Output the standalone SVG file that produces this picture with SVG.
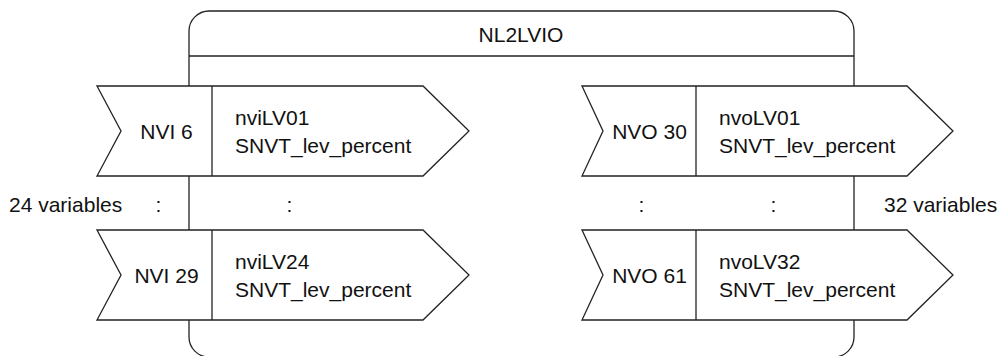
<svg xmlns="http://www.w3.org/2000/svg" width="1003" height="356" viewBox="0 0 1003 356">
<style>
.s{fill:#fff;stroke:#222;stroke-width:1.3;stroke-linejoin:miter}
.ln{fill:none;stroke:#222;stroke-width:1.3}
text{font-family:"Liberation Sans",Arial,Helvetica,sans-serif;font-size:21px;fill:#111}
.m{text-anchor:middle}
</style>
<rect width="1003" height="356" fill="#fff"/>
<g id="NL2LVIO">
<rect class="s" x="189" y="11" width="665" height="346" rx="20" ry="20"/>
<line class="ln" x1="189" y1="56" x2="854" y2="56"/>
<text class="m" x="521" y="42">NL2LVIO</text>
</g>
<g id="nviLV01">
<polygon class="s" points="97,86 423,86 469,131 423,176 97,176 121,131"/>
<line class="ln" x1="212" y1="86" x2="212" y2="176"/>
<text class="m" x="166.5" y="139">NVI 6</text>
<text x="235" y="125">nviLV01</text>
<text x="235" y="153">SNVT_lev_percent</text>
</g>
<g id="nviLV24">
<polygon class="s" points="97,230 423,230 469,275 423,320 97,320 121,275"/>
<line class="ln" x1="212" y1="230" x2="212" y2="320"/>
<text class="m" x="166.5" y="283">NVI 29</text>
<text x="235" y="269">nviLV24</text>
<text x="235" y="297">SNVT_lev_percent</text>
</g>
<g id="nvoLV01">
<polygon class="s" points="582,86 907,86 953,131 907,176 582,176 603,131"/>
<line class="ln" x1="696" y1="86" x2="696" y2="176"/>
<text class="m" x="649.5" y="139">NVO 30</text>
<text x="719" y="125">nvoLV01</text>
<text x="719" y="153">SNVT_lev_percent</text>
</g>
<g id="nvoLV32">
<polygon class="s" points="582,230 907,230 953,275 907,320 582,320 603,275"/>
<line class="ln" x1="696" y1="230" x2="696" y2="320"/>
<text class="m" x="649.5" y="283">NVO 61</text>
<text x="719" y="269">nvoLV32</text>
<text x="719" y="297">SNVT_lev_percent</text>
</g>
<g id="labels">
<text x="9" y="212">24 variables</text>
<text class="m" x="158.5" y="212">:</text>
<text class="m" x="289.5" y="212">:</text>
<text class="m" x="641.5" y="212">:</text>
<text class="m" x="773.5" y="212">:</text>
<text x="884" y="212">32 variables</text>
</g>
<g id="connectors"/>
</svg>
